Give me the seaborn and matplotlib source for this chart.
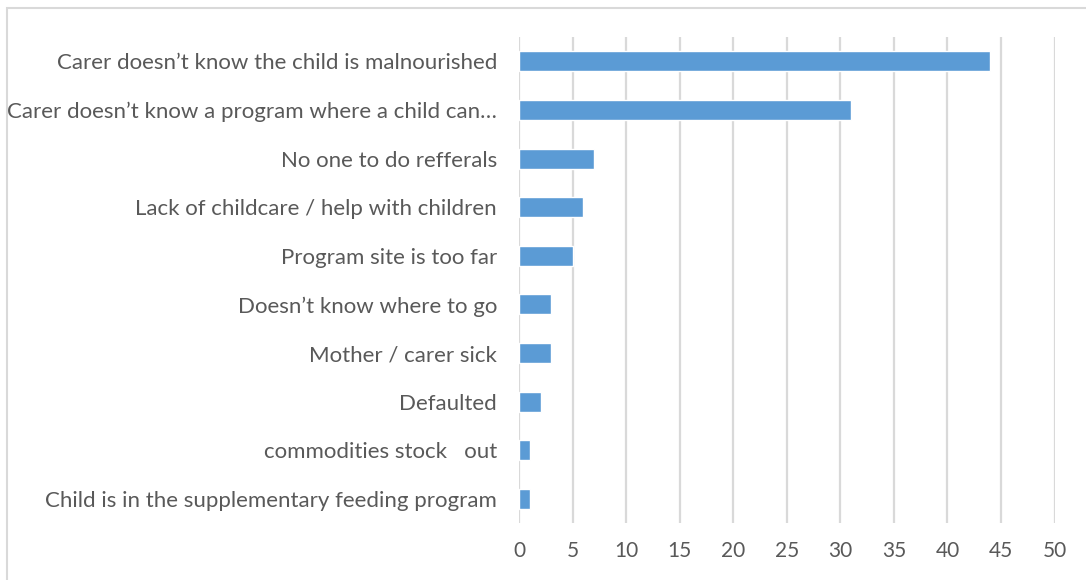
import matplotlib
matplotlib.use("Agg")
import matplotlib.pyplot as plt
import matplotlib.patches as mpatches
import seaborn as sns
import pandas as pd

categories = [
    "Carer doesn\u2019t know the child is malnourished",
    "Carer doesn\u2019t know a program where a child can\u2026",
    "No one to do refferals",
    "Lack of childcare / help with children",
    "Program site is too far",
    "Doesn\u2019t know where to go",
    "Mother / carer sick",
    "Defaulted",
    "commodities stock   out",
    "Child is in the supplementary feeding program",
]
counts = [44, 31, 7, 6, 5, 3, 3, 2, 1, 1]
x_ticks = [0, 5, 10, 15, 20, 25, 30, 35, 40, 45, 50]

df = pd.DataFrame({"reason": categories, "count": counts})

sns.set_theme(style="white")
plt.rcParams["font.family"] = ["Lato", "DejaVu Sans"]

fig = plt.figure(figsize=(10.86, 5.8), dpi=100)
ax = fig.add_axes([0.478, 0.098, 0.493, 0.838])

sns.barplot(data=df, x="count", y="reason", orient="h", color="#5B9BD5",
            saturation=1, width=0.41, ax=ax, zorder=3)

ax.set_xlim(0, 50)
ax.set_xticks(x_ticks)
ax.set_xticklabels([str(t) for t in x_ticks])
ax.set_xlabel("")
ax.set_ylabel("")
ax.grid(axis="x", color="#D9D9D9", linewidth=1.6, zorder=0)
ax.grid(axis="y", visible=False)
for s in ax.spines.values():
    s.set_visible(False)
ax.tick_params(axis="x", length=0, colors="#595959", labelsize=15, pad=13)
ax.tick_params(axis="y", length=0, colors="#595959", labelsize=16, pad=16)

# outer chart frame
frame = mpatches.Rectangle((7 / 1086, -0.1), 1.2, 1.1 - 8 / 580,
                           transform=fig.transFigure, fill=False,
                           edgecolor="#D9D9D9", linewidth=1.5)
fig.patches.append(frame)

fig.savefig("out.png", dpi=100, facecolor="white")
